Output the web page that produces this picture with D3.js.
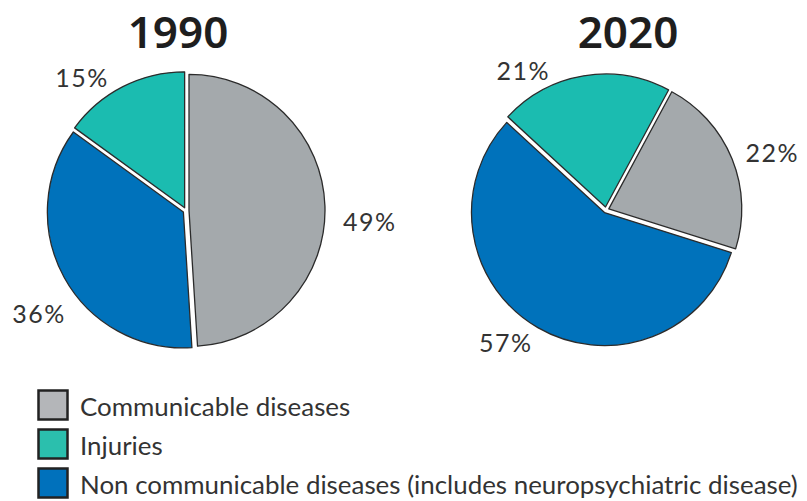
<!DOCTYPE html>
<html>
<head>
<meta charset="utf-8">
<script src="https://cdn.jsdelivr.net/npm/d3@7"></script>
<style>
  html, body { margin: 0; padding: 0; background: #ffffff; }
  svg { display: block; }
</style>
</head>
<body>
<svg id="chart" width="807" height="501"></svg>
<script>
// ---- data ----
const keys = ["communicable", "noncommunicable", "injuries"];
const years = ["1990", "2020"];
const values1990 = [49, 36, 15];
const values2020 = [22, 57, 21];
const legendOrder = ["communicable", "injuries", "noncommunicable"];
const legendLabels = ["Communicable diseases", "Injuries", "Non communicable diseases (includes neuropsychiatric disease)"];

// ---- styles / layout ----
const colors = { communicable: "#a4a9ac", injuries: "#1bbcb0", noncommunicable: "#0072bb" };
const legendColors = { communicable: "#b4b6b9", injuries: "#2bbfad", noncommunicable: "#0071bc" };

const pies = [
  { year: years[0], values: values1990, cx: 186, cy: 210.5, r: 136, start: 0, titleX: 178,
    labelAdj: [{a: 5, d: 184}, {a: -6, d: 179}, {a: -11, d: 169}] },
  { year: years[1], values: values2020, cx: 606, cy: 210, r: 133, start: 28.3, titleX: 628,
    labelAdj: [{a: 3, d: 176}, {a: 7, d: 166}, {a: -21, d: 163}] }
];
const explode = 3;

const svg = d3.select("#chart");

pies.forEach(p => {
  const data = keys.map((k, i) => ({ key: k, value: p.values[i] }));
  const rad = p.start * Math.PI / 180;
  const pie = d3.pie().sort(null).value(d => d.value)
    .startAngle(rad).endAngle(rad + 2 * Math.PI);
  const arcs = pie(data);
  const arc = d3.arc().innerRadius(0).outerRadius(p.r);

  const g = svg.append("g").attr("transform", `translate(${p.cx},${p.cy})`);

  g.selectAll("path.slice").data(arcs).join("path")
    .attr("class", "slice")
    .attr("d", arc)
    .attr("transform", d => {
      const m = (d.startAngle + d.endAngle) / 2;
      return `translate(${explode * Math.sin(m)},${-explode * Math.cos(m)})`;
    })
    .attr("fill", d => colors[d.data.key])
    .attr("stroke", "#2b2b2b")
    .attr("stroke-width", 1.3)
    .attr("stroke-linejoin", "round");

  const ang = (d, i) => (d.startAngle + d.endAngle) / 2 + p.labelAdj[i].a * Math.PI / 180;
  g.selectAll("text.pct").data(arcs).join("text")
    .attr("class", "pct")
    .attr("x", (d, i) => p.labelAdj[i].d * Math.sin(ang(d, i)))
    .attr("y", (d, i) => -p.labelAdj[i].d * Math.cos(ang(d, i)))
    .attr("text-anchor", "middle")
    .attr("dominant-baseline", "central")
    .attr("font-family", "Lato, sans-serif")
    .attr("font-size", 25)
    .attr("font-weight", 400)
    .attr("letter-spacing", 1.5)
    .attr("fill", "#333333")
    .text(d => d.data.value + "%");

  svg.append("text")
    .attr("x", p.titleX)
    .attr("y", 48)
    .attr("text-anchor", "middle")
    .attr("font-family", "'Noto Sans', sans-serif")
    .attr("font-weight", 600)
    .attr("font-size", 44)
    .attr("fill", "#1e1e1e")
    .text(p.year);
});

// ---- legend ----
const legendY = d3.scalePoint().domain(legendOrder).range([416, 494]);
const lg = svg.append("g");
legendOrder.forEach((k, i) => {
  const base = legendY(k);
  lg.append("rect")
    .attr("x", 38.5).attr("y", base - 25.5)
    .attr("width", 29).attr("height", 29)
    .attr("fill", legendColors[k])
    .attr("stroke", "#222222")
    .attr("stroke-width", 2.5);
  lg.append("text")
    .attr("class", "leg")
    .attr("x", 80).attr("y", base)
    .attr("font-family", "Lato, sans-serif")
    .attr("font-size", 27)
    .attr("fill", "#333333")
    .text(legendLabels[i]);
});
// fit the longest legend line inside the picture
const longest = lg.selectAll("text.leg").nodes()[2];
const w = longest.getComputedTextLength();
const fs = 27 * 718 / w;
lg.selectAll("text.leg").attr("font-size", Math.min(30, Math.max(20, fs)));
</script>
</body>
</html>
